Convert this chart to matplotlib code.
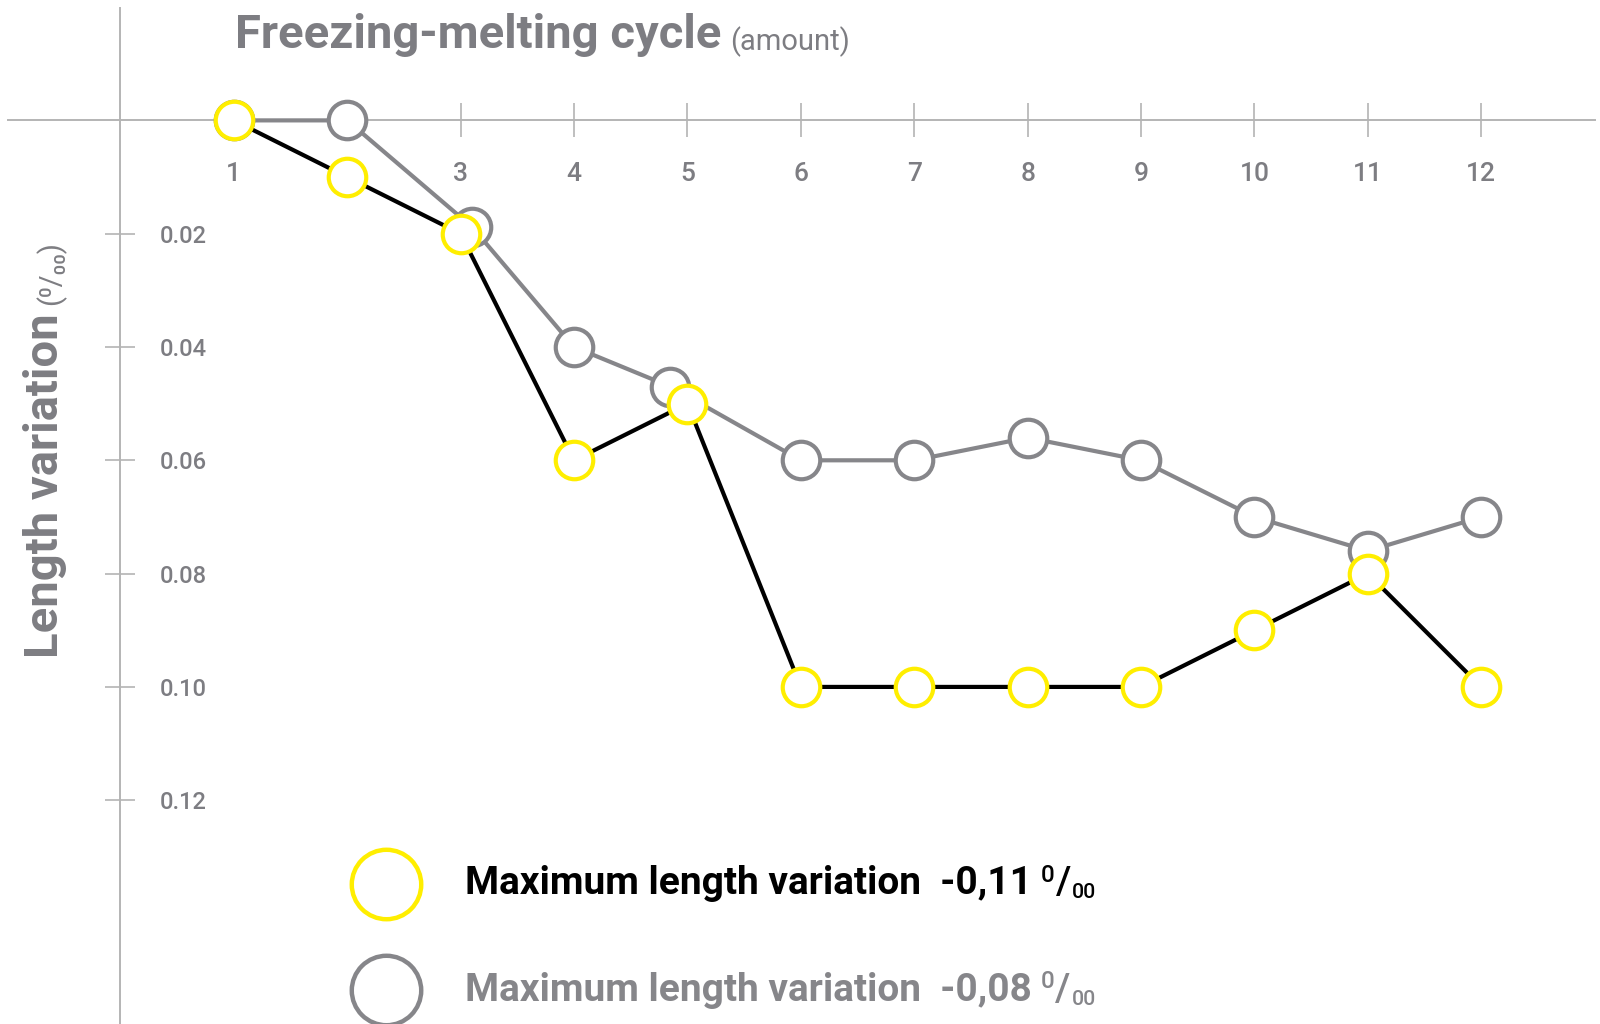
"""
Freezing-melting cycle vs. length variation (two series, inverted y axis).
"""

import matplotlib
matplotlib.use("Agg")
import matplotlib.pyplot as plt
from matplotlib.lines import Line2D

# ── data ─────────────────────────────────────────────────────────
CYCLES = [1, 2, 3, 4, 5, 6, 7, 8, 9, 10, 11, 12]
X_TICK_LABELS = ["1", "", "3", "4", "5", "6", "7", "8", "9", "10", "11", "12"]

YELLOW_X = [1, 2, 3, 4, 5, 6, 7, 8, 9, 10, 11, 12]
YELLOW_Y = [0.0, 0.01, 0.02, 0.06, 0.05, 0.10, 0.10, 0.10, 0.10, 0.09, 0.08, 0.10]

GRAY_X = [1, 2, 3.1, 4, 4.85, 6, 7, 8, 9, 10, 11, 12]
GRAY_Y = [0.0, 0.0, 0.0188, 0.04, 0.047, 0.06, 0.06, 0.056, 0.06, 0.07, 0.076, 0.07]

Y_TICKS = [0.02, 0.04, 0.06, 0.08, 0.10, 0.12]
Y_TICK_LABELS = ["0.02", "0.04", "0.06", "0.08", "0.10", "0.12"]

LEGEND = [
    ("Maximum length variation  -0,11", "#000000", "#ffee00"),
    ("Maximum length variation  -0,08", "#86868a", "#86868a"),
]

# ── style ────────────────────────────────────────────────────────
YELLOW   = "#ffee00"
GRAY     = "#86868a"
AXIS_COL = "#b4b4b4"
TEXT_COL = "#7d7d82"
FONT     = ["Roboto", "DejaVu Sans"]

plt.rcParams["font.family"] = FONT

fig = plt.figure(figsize=(16, 10.24), dpi=100)
ax = fig.add_axes([0, 0, 1, 1])
ax.set_xlim(-1.062, 13.047)
ax.set_ylim(0.1595, -0.02125)

# axes crossing at the origin
for side in ("top", "right"):
    ax.spines[side].set_visible(False)
ax.spines["left"].set_position(("data", 0))
ax.spines["bottom"].set_position(("data", 0))
ax.spines["left"].set_bounds(-0.0198, 0.1595)
ax.spines["bottom"].set_bounds(-0.99, 13.0)
for side in ("left", "bottom"):
    ax.spines[side].set_color(AXIS_COL)
    ax.spines[side].set_linewidth(1.4)

ax.set_xticks(CYCLES)
ax.set_xticklabels(X_TICK_LABELS)
ax.set_yticks(Y_TICKS)
ax.set_yticklabels(Y_TICK_LABELS)
ax.tick_params(axis="x", direction="inout", length=24, width=1.2, color=AXIS_COL,
               pad=18, labelsize=19, labelcolor=TEXT_COL)
ax.tick_params(axis="y", direction="inout", length=22, width=1.2, color=AXIS_COL,
               pad=-39, labelsize=17, labelcolor=TEXT_COL)
for lbl in ax.get_xticklabels() + ax.get_yticklabels():
    lbl.set_fontweight("medium")
for lbl in ax.get_yticklabels():
    lbl.set_horizontalalignment("left")

# series: gray underneath, yellow/black on top
ax.plot(GRAY_X, GRAY_Y, color=GRAY, lw=3, zorder=3,
        marker="o", ms=27, mfc="white", mec=GRAY, mew=3, clip_on=False)
ax.plot(YELLOW_X, YELLOW_Y, color="black", lw=3, zorder=4,
        marker="o", ms=27, mfc="white", mec=YELLOW, mew=3, clip_on=False)

# titles
t = fig.text(0.147, 0.953, "Freezing-melting cycle", fontsize=34, fontweight="bold",
             color=TEXT_COL, ha="left", va="baseline")
ax.annotate("(amount)", xy=(1, 0), xycoords=t, xytext=(6, 0),
            textcoords="offset points", fontsize=21, color=TEXT_COL,
            ha="left", va="bottom")

yl = fig.text(0.028, 0.357, "Length variation", fontsize=34, fontweight="bold",
              color=TEXT_COL, rotation=90, ha="center", va="bottom")
ax.annotate("(⁰/₀₀)", xy=(0.5, 1), xycoords=yl, xytext=(4, 6),
            textcoords="offset points", fontsize=21, color=TEXT_COL,
            rotation=90, ha="center", va="bottom")


def per_mille(anchor, color, size):
    """Draw a superscript 0, slash, subscript 00 after the anchor text."""
    kw = dict(textcoords="offset points", color=color, fontweight="medium",
              ha="left", va="bottom")
    sup = ax.annotate("0", xy=(1, 0), xycoords=anchor, xytext=(6, size * 0.40),
                      fontsize=size * 0.62, **kw)
    sl = ax.annotate("/", xy=(1, 0), xycoords=(sup, anchor), xytext=(1, 0),
                     fontsize=size, **kw)
    sub = ax.annotate("00", xy=(1, 0), xycoords=(sl, anchor), xytext=(1, 0),
                      fontsize=size * 0.55, **kw)
    return sub


# legend
for (label, tcol, mcol), ypos in zip(LEGEND, [0.137, 0.033]):
    fig.add_artist(Line2D([0.241], [ypos], marker="o", ms=50, mfc="white",
                          mec=mcol, mew=3.2, transform=fig.transFigure))
    txt = fig.text(0.2907, ypos, label, fontsize=28, fontweight="bold", color=tcol,
                   ha="left", va="center")
    per_mille(txt, tcol, 28)

fig.savefig("out.png", dpi=100)
